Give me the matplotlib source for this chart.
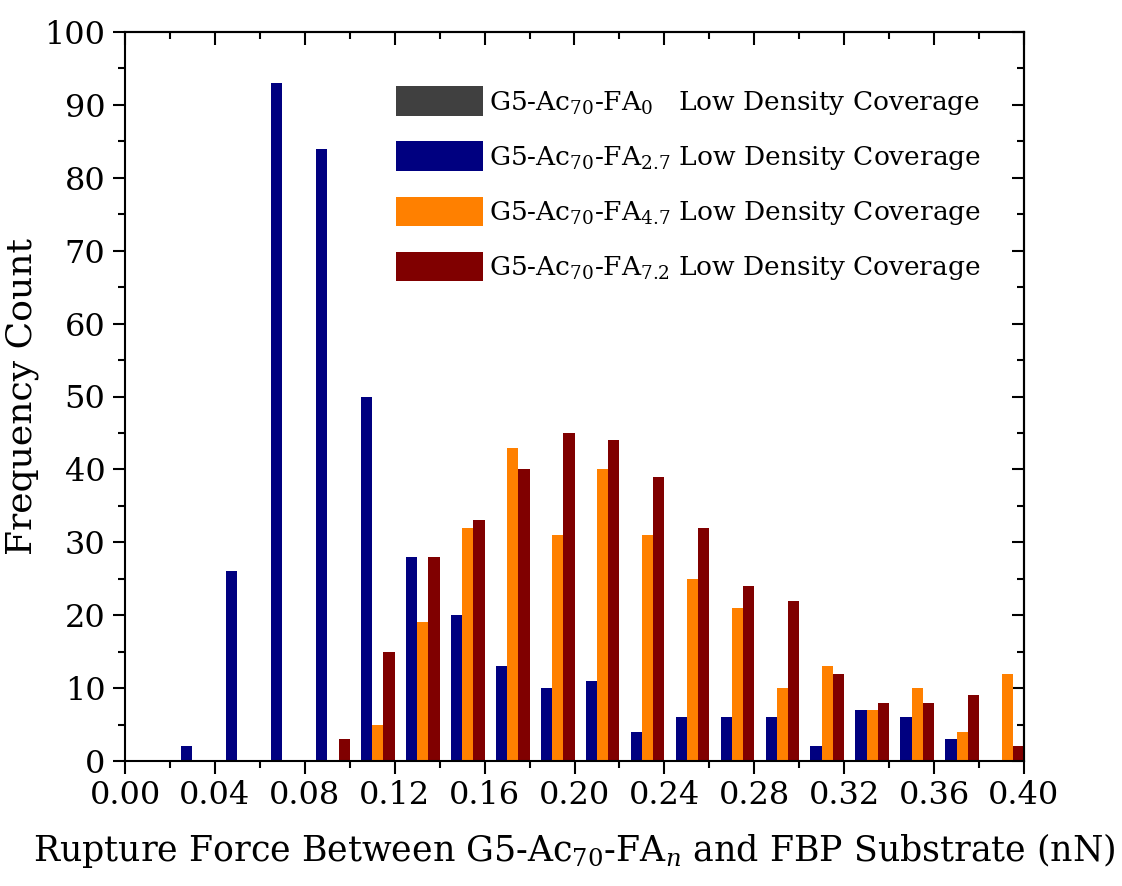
import matplotlib
matplotlib.use('Agg')
import matplotlib.pyplot as plt
from matplotlib.ticker import MultipleLocator, FormatStrFormatter
import numpy as np

plt.rcParams['font.family'] = ['DejaVu Serif']
plt.rcParams['mathtext.fontset'] = 'custom'
plt.rcParams['mathtext.rm'] = 'DejaVu Serif'
plt.rcParams['mathtext.it'] = 'DejaVu Serif:italic'

# bin starts (nN), bin width 0.02
bin_starts = [0.00, 0.02, 0.04, 0.06, 0.08, 0.10, 0.12, 0.14, 0.16, 0.18,
              0.20, 0.22, 0.24, 0.26, 0.28, 0.30, 0.32, 0.34, 0.36, 0.38]
fa_0 = [0] * 20
fa_2_7 = [0, 2, 26, 93, 84, 50, 28, 20, 13, 10, 11, 4, 6, 6, 6, 2, 7, 6, 3, 0]
fa_4_7 = [0, 0, 0, 0, 0, 5, 19, 32, 43, 31, 40, 31, 25, 21, 10, 13, 7, 10, 4, 12]
fa_7_2 = [0, 0, 0, 0, 3, 15, 28, 33, 40, 45, 44, 39, 32, 24, 22, 12, 8, 8, 9, 2]

series = [
    (fa_0, '#404040', 'G5-Ac$_{70}$-FA$_{0}$   Low Density Coverage'),
    (fa_2_7, '#000080', 'G5-Ac$_{70}$-FA$_{2.7}$ Low Density Coverage'),
    (fa_4_7, '#FF8000', 'G5-Ac$_{70}$-FA$_{4.7}$ Low Density Coverage'),
    (fa_7_2, '#800000', 'G5-Ac$_{70}$-FA$_{7.2}$ Low Density Coverage'),
]

fig = plt.figure(figsize=(11.22, 8.86), dpi=100)
ax = fig.add_axes([125 / 1122, 125 / 886, 899 / 1122, 729 / 886])

bw = 0.005
x0 = np.array(bin_starts)
for i, (vals, col, lab) in enumerate(series):
    ax.bar(x0 + bw * i, vals, width=bw, align='edge', color=col, label=lab)

ax.set_xlim(0, 0.40)
ax.set_ylim(0, 100)
ax.xaxis.set_major_locator(MultipleLocator(0.04))
ax.xaxis.set_minor_locator(MultipleLocator(0.02))
ax.yaxis.set_major_locator(MultipleLocator(10))
ax.yaxis.set_minor_locator(MultipleLocator(5))
ax.xaxis.set_major_formatter(FormatStrFormatter('%.2f'))
ax.tick_params(which='major', direction='out', length=9, width=1.5, labelsize=23, pad=5)
ax.tick_params(which='minor', direction='out', length=5, width=1.5)
for s in ax.spines.values():
    s.set_linewidth(1.5)

top = ax.secondary_xaxis('top')
top.xaxis.set_major_locator(MultipleLocator(0.04))
top.xaxis.set_minor_locator(MultipleLocator(0.02))
top.tick_params(which='major', direction='in', length=9, width=1.5, labeltop=False)
top.tick_params(which='minor', direction='in', length=5, width=1.5)
right = ax.secondary_yaxis('right')
right.yaxis.set_major_locator(MultipleLocator(10))
right.yaxis.set_minor_locator(MultipleLocator(5))
right.tick_params(which='major', direction='in', length=9, width=1.5, labelright=False)
right.tick_params(which='minor', direction='in', length=5, width=1.5)
for sa in (top, right):
    for s in sa.spines.values():
        s.set_linewidth(1.5)

ax.set_xlabel('Rupture Force Between G5-Ac$_{70}$-FA$_{\\mathit{n}}$ and FBP Substrate (nN)',
              fontsize=25, labelpad=14)
ax.set_ylabel('Frequency Count', fontsize=26, labelpad=4)

ax.legend(loc='upper left', bbox_to_anchor=(0.29, 0.94), frameon=False,
          fontsize=19, handlelength=3.3, handleheight=1.35, labelspacing=0.93,
          handletextpad=0.2, borderaxespad=0)

fig.savefig('out.png', dpi=100)
